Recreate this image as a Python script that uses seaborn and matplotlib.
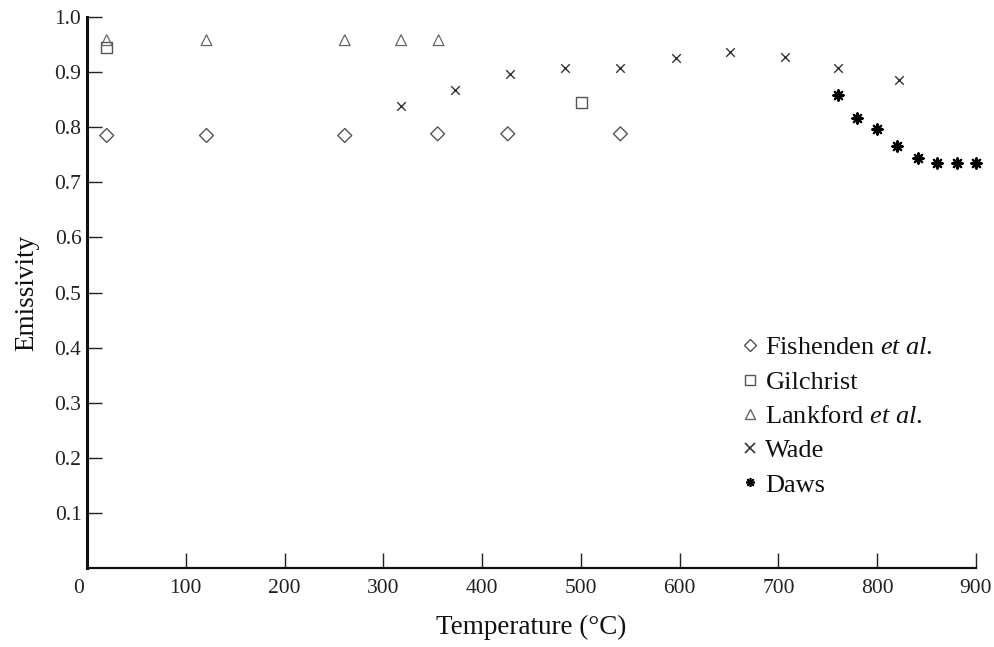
import matplotlib
matplotlib.use("Agg")
import matplotlib.pyplot as plt
import matplotlib.transforms as mtransforms
from matplotlib.lines import Line2D
import pandas as pd
import seaborn as sns

# Emissivity measurements by source
fish_t = [20, 121, 261, 355, 426, 540]
fish_e = [0.785, 0.785, 0.785, 0.788, 0.788, 0.788]

gil_t = [20, 501]
gil_e = [0.945, 0.845]

lank_t = [20, 121, 261, 318, 356]
lank_e = [0.958, 0.958, 0.958, 0.958, 0.958]

wade_t = [318, 373, 428, 484, 540, 596, 651, 707, 760, 822]
wade_e = [0.838, 0.868, 0.897, 0.907, 0.907, 0.925, 0.936, 0.928, 0.907, 0.885]

daws_t = [760, 780, 800, 820, 841, 861, 881, 900]
daws_e = [0.858, 0.817, 0.796, 0.766, 0.745, 0.735, 0.735, 0.735]

x_ticks = [0, 100, 200, 300, 400, 500, 600, 700, 800, 900]
y_ticks = [0.1, 0.2, 0.3, 0.4, 0.5, 0.6, 0.7, 0.8, 0.9, 1.0]

sources = ["Fishenden", "Gilchrist", "Lankford", "Wade", "Daws"]
legend_labels = [
    r"Fishenden $\mathit{et\ al.}$",
    "Gilchrist",
    r"Lankford $\mathit{et\ al.}$",
    "Wade",
    "Daws",
]

sns.set_theme(style="white")
plt.rcParams["font.family"] = ["Liberation Serif", "DejaVu Serif"]
plt.rcParams["mathtext.fontset"] = "custom"
plt.rcParams["mathtext.rm"] = "Liberation Serif"
plt.rcParams["mathtext.it"] = "Liberation Serif:italic"

frames = []
for name, t, e in zip(sources, [fish_t, gil_t, lank_t, wade_t, daws_t],
                      [fish_e, gil_e, lank_e, wade_e, daws_e]):
    frames.append(pd.DataFrame({"Temperature": t, "Emissivity": e, "Source": name}))
df = pd.concat(frames, ignore_index=True)

styles = {
    "Fishenden": dict(marker="D", s=50, facecolor="none", edgecolor="#555555", linewidth=1.0),
    "Gilchrist": dict(marker="s", s=60, facecolor="none", edgecolor="#555555", linewidth=1.0),
    "Lankford": dict(marker="^", s=60, facecolor="none", edgecolor="#666666", linewidth=0.9),
    "Wade": dict(marker="x", s=38, color="#333333", linewidth=1.0),
    "Daws": dict(marker=(8, 2, 0), s=55, color="#000000", linewidth=1.6),
}

fig = plt.figure(figsize=(9.95, 6.47), dpi=100)
ax = fig.add_axes([0.0874, 0.1221, 0.8935, 0.8516])

for name in sources:
    sub = df[df["Source"] == name]
    kw = dict(styles[name])
    sns.scatterplot(data=sub, x="Temperature", y="Emissivity", ax=ax,
                    legend=False, clip_on=False, **kw)

ax.set_xlim(0, 900)
ax.set_ylim(0, 1.0)
ax.set_xticks(x_ticks)
ax.set_yticks(y_ticks)
ax.set_xticklabels([str(v) for v in x_ticks])
ax.set_yticklabels([f"{v:.1f}" for v in y_ticks])

for side in ["top", "right"]:
    ax.spines[side].set_visible(False)
ax.spines["left"].set_linewidth(2.2)
ax.spines["bottom"].set_linewidth(1.6)
ax.spines["left"].set_color("#111111")
ax.spines["bottom"].set_color("#111111")

ax.tick_params(axis="x", direction="in", length=11, width=1.0, pad=8,
               labelsize=15.5, colors="#222222")
ax.tick_params(axis="y", direction="in", length=11, width=1.0, pad=4,
               labelsize=15.5, colors="#222222")
ax.tick_params(axis="both", which="both", left=True, bottom=True)

# shift the origin label slightly left of the corner
zero_lbl = ax.get_xticklabels()[0]
zero_lbl.set_transform(zero_lbl.get_transform() +
                       mtransforms.ScaledTranslation(-6 / 72, 0, fig.dpi_scale_trans))

ax.set_xlabel("Temperature (°C)", fontsize=19.5, color="#111111", labelpad=12)
ax.set_ylabel("Emissivity", fontsize=19.5, color="#111111", labelpad=11)

handles = []
for name in sources:
    st = styles[name]
    if st.get("facecolor") == "none":
        h = Line2D([], [], linestyle="none", marker=st["marker"], markersize=6.5,
                   markerfacecolor="none", markeredgecolor=st["edgecolor"],
                   markeredgewidth=1.0)
    else:
        h = Line2D([], [], linestyle="none", marker=st["marker"], markersize=6.5,
                   color=st["color"], markeredgewidth=1.2)
    handles.append(h)

leg = ax.legend(handles, legend_labels, loc="upper left",
                bbox_to_anchor=(0.7216, 0.445), frameon=False, fontsize=19,
                handlelength=0.6, handletextpad=0.3, labelspacing=0.41,
                borderpad=0.0)
for txt in leg.get_texts():
    txt.set_color("#111111")

fig.savefig("out.png", dpi=100, facecolor="white")
